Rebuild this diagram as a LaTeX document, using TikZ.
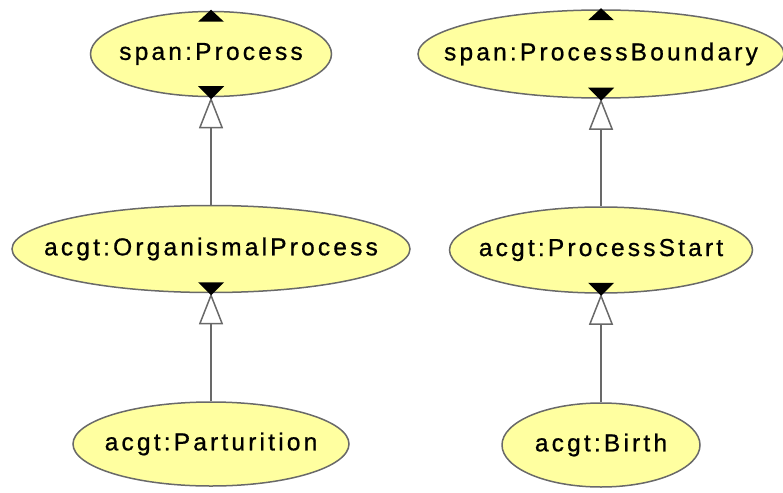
\documentclass[tikz,border=0pt]{standalone}
\usepackage{fontspec}
\usetikzlibrary{shapes.geometric,arrows.meta}
\newfontfamily\classfont{Liberation Sans}[LetterSpace=13,FakeBold=0.8]
\definecolor{classfill}{RGB}{255,255,160}
\definecolor{classline}{RGB}{105,105,105}

\tikzset{every picture/.style={line width=1.5pt}}
\tikzset{
	owlclass/.style={ellipse, draw=classline, fill=classfill, inner sep=0pt,
		font=\classfont\fontsize{24.5}{24.5}\selectfont,
		execute at begin node={\hbox to 0pt\bgroup\hss},
		execute at end node={\hss\egroup}},
	isa/.style={draw=classline, -{Triangle[open, length=31pt, width=24pt]}}
}

\begin{document}
\begin{tikzpicture}[x=1pt,y=1pt,yscale=-1]
	\useasboundingbox (0,0) rectangle (783,492);

	% Classes, left column
	\node[owlclass, minimum width=241, minimum height=85] (process) at (211,54) {span:Process};
	\node[owlclass, minimum width=398, minimum height=87] (organismal) at (211,249) {acgt:OrganismalProcess};
	\node[owlclass, minimum width=276, minimum height=84] (parturition) at (211,444) {acgt:Parturition};
	% Classes, right column
	\node[owlclass, minimum width=366, minimum height=88] (boundary) at (601,54) {span:ProcessBoundary};
	\node[owlclass, minimum width=303, minimum height=86] (start) at (601,250) {acgt:ProcessStart};
	\node[owlclass, minimum width=198, minimum height=84] (birth) at (601,445) {acgt:Birth};

	% Subclass links
	\draw[isa] (organismal.north) -- (process.south);
	\draw[isa] (parturition.north) -- (organismal.south);
	\draw[isa] (start.north) -- (boundary.south);
	\draw[isa] (birth.north) -- (start.south);

	% Expand marks
	\foreach \c in {process,boundary}
		\fill ([yshift=-1pt]\c.north) -- ++(13,12) -- ++(-26,0) -- cycle;
	\foreach \c in {process,boundary,organismal,start}
		\fill ([yshift=2pt]\c.south) -- ++(13,-13) -- ++(-26,0) -- cycle;

\end{tikzpicture}
\end{document}
